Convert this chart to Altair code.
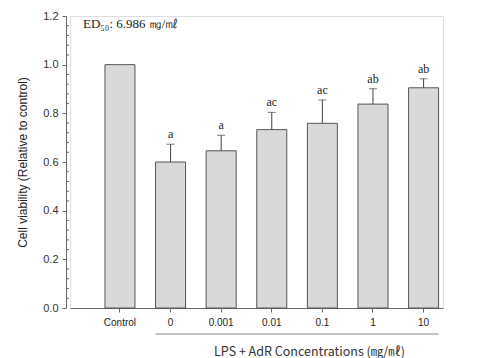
import altair as alt
import pandas as pd

categories = ["Control", "0", "0.001", "0.01", "0.1", "1", "10"]
means = [1.0, 0.600, 0.646, 0.733, 0.759, 0.838, 0.905]
errors = [0.0, 0.073, 0.064, 0.071, 0.096, 0.063, 0.037]
letters = ["", "a", "a", "ac", "ac", "ab", "ab"]
y_ticks = [0.0, 0.2, 0.4, 0.6, 0.8, 1.0, 1.2]
minor_ticks = [round(i * 0.04, 2) for i in range(31) if i % 5 != 0]
group_start, group_end = "0", "10"
ed50_text = "ED₅₀: 6.986 ㎎/㎖"
x_title = "LPS + AdR Concentrations (㎎/㎖)"
y_title = "Cell viability (Relative to control)"

df = pd.DataFrame({
    "cat": categories,
    "value": means,
    "err": errors,
    "upper": [m + e for m, e in zip(means, errors)],
    "letter": letters,
})

xscale = alt.Scale(domain=categories, paddingInner=0.407, paddingOuter=0.389, align=0.888)
yscale = alt.Scale(domain=[0, 1.2], nice=False)

xaxis = alt.Axis(
    title=x_title, labelAngle=0, labelFont="Liberation Sans", labelFontSize=10,
    labelColor="#222", tickSize=4, tickColor="#666", domainColor="#666",
    labelPadding=5, titleFont="Noto Sans CJK KR", titleFontSize=12.5,
    titleFontWeight="normal", titleColor="#333", titleX=239, titleY=37,
)
yaxis = alt.Axis(
    title=y_title, values=y_ticks, format=".1f", offset=4, grid=False,
    labelFont="Liberation Sans", labelFontSize=11, labelColor="#333",
    tickSize=4, tickColor="#666", domainColor="#666", labelPadding=4,
    titleFont="Liberation Sans", titleFontSize=12, titleFontWeight="normal",
    titleColor="#222", titleX=-44, titleY=146, titleBaseline="middle",
)

base = alt.Chart(df).encode(x=alt.X("cat:N", sort=categories, scale=xscale, axis=xaxis))

bars = base.mark_bar(fill="#d9d9d9", stroke="#555", strokeWidth=1).encode(
    y=alt.Y("value:Q", scale=yscale, axis=yaxis)
)
err_rule = base.transform_filter("datum.err > 0").mark_rule(color="#444", strokeWidth=1).encode(
    y=alt.Y("value:Q"), y2="upper:Q"
)
err_cap = base.transform_filter("datum.err > 0").mark_tick(color="#444", size=8, thickness=1).encode(
    y=alt.Y("upper:Q")
)
labels = base.mark_text(font="Liberation Serif", fontSize=12, color="#222", dy=-6, baseline="alphabetic").encode(
    y=alt.Y("upper:Q"), text="letter:N"
)

minor = alt.Chart(pd.DataFrame({"value": minor_ticks})).mark_rule(color="#666", strokeWidth=1).encode(
    y=alt.Y("value:Q"), x=alt.value(-4), x2=alt.value(-1)
)

group = alt.Chart(pd.DataFrame({"start": [group_start], "end": [group_end]})).mark_rule(
    color="#888", strokeWidth=1
).encode(
    x=alt.X("start:N", bandPosition=0),
    x2=alt.X2("end", bandPosition=1),
    y=alt.value(318),
)

ed = alt.Chart(pd.DataFrame({"t": [ed50_text]})).mark_text(
    font="Liberation Serif", fontSize=13, color="#222", align="left", baseline="middle"
).encode(text="t:N", x=alt.value(13), y=alt.value(8))

chart = alt.layer(bars, err_rule, err_cap, labels, minor, group, ed).properties(
    width=373, height=292,
    autosize=alt.AutoSizeParams(type="none"),
    padding={"left": 70, "top": 16, "right": 34, "bottom": 50},
).configure_view(stroke=None).configure(background="white")

chart.save("out.html", embed_options={"renderer": "svg", "actions": False})
